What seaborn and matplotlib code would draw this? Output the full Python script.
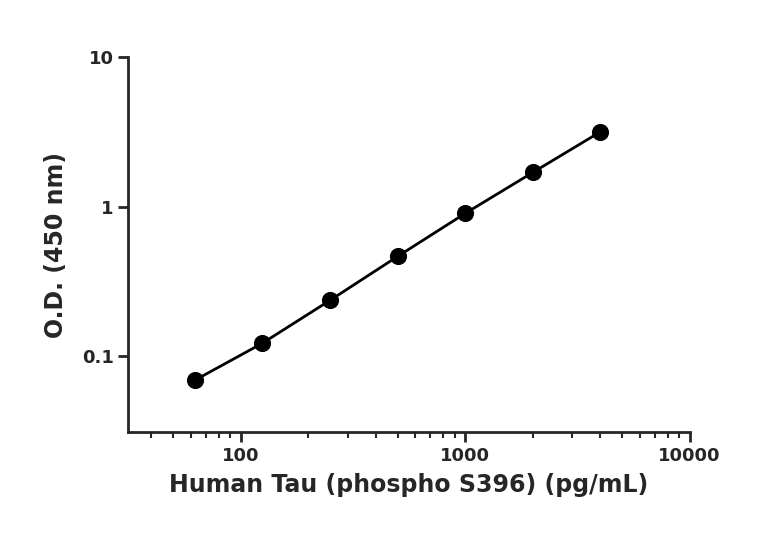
import matplotlib
matplotlib.use("Agg")
import matplotlib.pyplot as plt
import seaborn as sns
import pandas as pd
from matplotlib.ticker import LogLocator, FixedLocator, NullLocator

conc = [62.5, 125, 250, 500, 1000, 2000, 4000]
od = [0.069, 0.122, 0.236, 0.464, 0.90, 1.69, 3.16]
df = pd.DataFrame({"conc": conc, "od": od})

sns.set_style("ticks")
plt.rcParams['font.family'] = ['DejaVu Sans']
fig = plt.figure(figsize=(7.68, 5.43), dpi=100)
ax = fig.add_axes([0.167, 0.204, 0.731, 0.691])
sns.lineplot(data=df, x="conc", y="od", color="black", lw=2, ax=ax)
sns.scatterplot(data=df, x="conc", y="od", color="black", s=130, edgecolor="black", zorder=3, ax=ax)
ax.set_xscale("log"); ax.set_yscale("log")
ax.set_xlim(31.6, 10000); ax.set_ylim(0.031, 10)
ax.xaxis.set_major_locator(FixedLocator([100, 1000, 10000]))
ax.xaxis.set_minor_locator(LogLocator(base=10, subs=range(2, 10)))
ax.yaxis.set_major_locator(FixedLocator([0.1, 1, 10]))
ax.yaxis.set_minor_locator(NullLocator())
ax.set_xticklabels(["100", "1000", "10000"])
ax.set_yticklabels(["0.1", "1", "10"])
for s in ["top", "right"]:
    ax.spines[s].set_visible(False)
for s in ["left", "bottom"]:
    ax.spines[s].set_linewidth(2)
ax.tick_params(which="major", width=2, length=7, labelsize=13)
ax.tick_params(which="minor", width=1.5, length=4)
for t in ax.get_xticklabels() + ax.get_yticklabels():
    t.set_fontweight("bold")
ax.set_xlabel("Human Tau (phospho S396) (pg/mL)", fontsize=17, fontweight="bold", labelpad=6)
ax.set_ylabel("O.D. (450 nm)", fontsize=17, fontweight="bold", labelpad=10)
fig.savefig("out.png", dpi=100)
